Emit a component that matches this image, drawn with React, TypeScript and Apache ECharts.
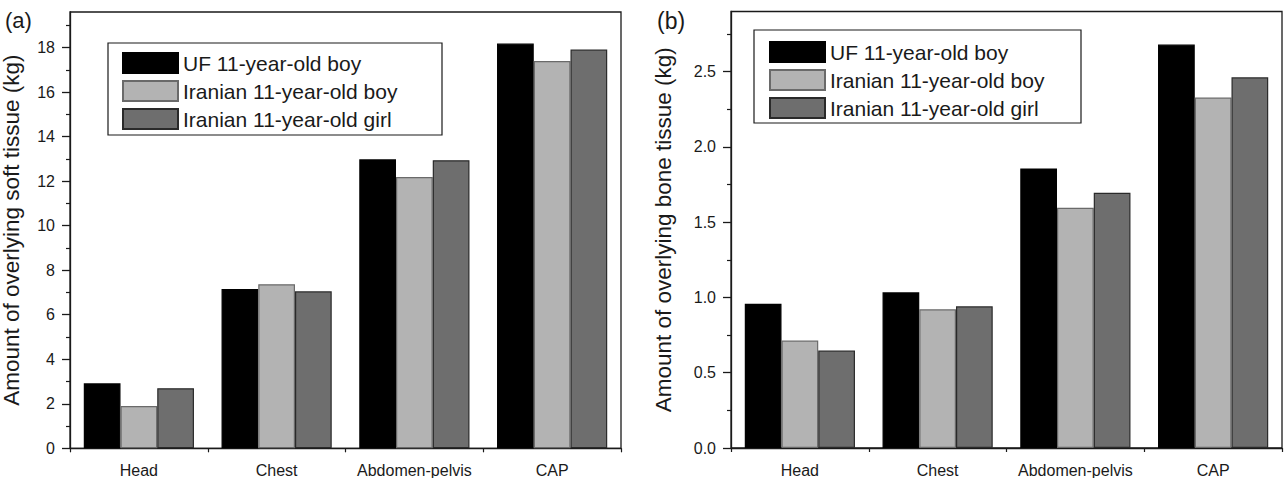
import React, { useEffect, useRef } from "react";
import * as echarts from "echarts";

const categories = ["Head", "Chest", "Abdomen-pelvis", "CAP"];
const seriesNames = ["UF 11-year-old boy", "Iranian 11-year-old boy", "Iranian 11-year-old girl"];

const softUF = [2.92, 7.16, 12.98, 18.18];
const softIranBoy = [1.9, 7.37, 12.19, 17.4];
const softIranGirl = [2.7, 7.05, 12.94, 17.91];

const boneUF = [0.958, 1.034, 1.857, 2.68];
const boneIranBoy = [0.714, 0.921, 1.596, 2.328];
const boneIranGirl = [0.647, 0.941, 1.696, 2.463];

const softTicks = [0, 2, 4, 6, 8, 10, 12, 14, 16, 18];
const softMinorTicks = [1, 3, 5, 7, 9, 11, 13, 15, 17, 19];
const boneTicks = [0, 0.5, 1.0, 1.5, 2.0, 2.5];
const boneMinorTicks = [0.25, 0.75, 1.25, 1.75, 2.25, 2.75];

const softMax = 19.6;
const boneMax = 2.9;

export default function App() {
  const ref = useRef<HTMLDivElement>(null);
  useEffect(() => {
    const chart = echarts.init(ref.current!, null, { renderer: "svg" });
    const font = "'Liberation Sans', Arial, sans-serif";
    const ink = "#1a1a1a";
    const fills = ["#000000", "#b3b3b3", "#6e6e6e"];
    const borders = ["#000000", "#6a6a6a", "#2a2a2a"];

    const bar = (vals: number[], i: number, axis: number) => ({
      type: "bar",
      name: seriesNames[i],
      xAxisIndex: axis,
      yAxisIndex: axis,
      data: vals,
      barGap: "0%",
      barCategoryGap: "20%",
      itemStyle: { color: fills[i], borderColor: borders[i], borderWidth: 1.2 },
      emphasis: { disabled: true },
    });

    const xMain = (grid: number) => ({
      type: "category",
      gridIndex: grid,
      data: categories,
      position: "bottom",
      axisLine: { lineStyle: { color: ink, width: 1.3 } },
      axisTick: { alignWithLabel: true, interval: 0, length: 8, lineStyle: { color: ink, width: 1.3 } },
      axisLabel: { interval: 0, fontSize: 16, margin: 14, color: ink, fontFamily: font },
      splitLine: { show: false },
    });
    const xMinor = (grid: number) => ({
      type: "category",
      gridIndex: grid,
      data: categories,
      position: "bottom",
      axisLine: { show: false },
      axisTick: { show: true, interval: 0, length: 4, lineStyle: { color: ink, width: 1.2 } },
      axisLabel: { show: false, interval: 0 },
      splitLine: { show: false },
    });
    const yMain = (grid: number, max: number, ticks: number[], name: string, gap: number, dec: number) => ({
      type: "value",
      gridIndex: grid,
      position: "left",
      min: 0,
      max,
      name,
      nameLocation: "middle",
      nameGap: gap,
      nameTextStyle: { fontSize: 22.5, color: ink, fontFamily: font },
      axisLine: { show: true, lineStyle: { color: ink, width: 1.3 } },
      axisTick: { show: true, length: 8, customValues: ticks, lineStyle: { color: ink, width: 1.3 } },
      axisLabel: {
        customValues: ticks,
        fontSize: 16,
        margin: 15,
        color: ink,
        fontFamily: font,
        formatter: (v: number) => v.toFixed(dec),
      },
      splitLine: { show: false },
    });
    const yMinor = (grid: number, max: number, ticks: number[]) => ({
      type: "value",
      gridIndex: grid,
      position: "left",
      min: 0,
      max,
      axisLine: { show: false },
      axisTick: { show: true, length: 4, customValues: ticks, lineStyle: { color: ink, width: 1.2 } },
      axisLabel: { show: false },
      splitLine: { show: false },
    });

    const legend = (left: number, top: number) => ({
      left,
      top,
      orient: "vertical",
      data: seriesNames,
      icon: "rect",
      itemWidth: 55,
      itemHeight: 20,
      itemGap: 6,
      padding: 0,
      selectedMode: false,
      textStyle: { fontSize: 21, lineHeight: 20, color: ink, fontFamily: font },
    });

    chart.setOption({
      animation: false,
      backgroundColor: "#ffffff",
      grid: [
        { left: 70, top: 12, width: 551, height: 436.3, show: true, borderColor: ink, borderWidth: 1.3, outerBoundsMode: "none" },
        { left: 731, top: 11.5, width: 551, height: 436.5, show: true, borderColor: ink, borderWidth: 1.3, outerBoundsMode: "none" },
      ],
      xAxis: [xMain(0), xMinor(0), xMain(1), xMinor(1)],
      yAxis: [
        yMain(0, softMax, softTicks, "Amount of overlying soft tissue (kg)", 47, 0),
        yMinor(0, softMax, softMinorTicks),
        yMain(1, boneMax, boneTicks, "Amount of overlying bone tissue (kg)", 56, 1),
        yMinor(1, boneMax, boneMinorTicks),
      ],
      legend: [legend(122, 52), legend(769, 41)],
      graphic: [
        { type: "rect", shape: { x: 108, y: 43, width: 334, height: 92 }, style: { fill: "none", stroke: ink, lineWidth: 1.2 }, z: 5 },
        { type: "rect", shape: { x: 754, y: 30, width: 327, height: 93 }, style: { fill: "none", stroke: ink, lineWidth: 1.2 }, z: 5 },
        { type: "text", left: 5, top: 9, style: { text: "(a)", fontSize: 22, fill: ink, fontFamily: font } },
        { type: "text", left: 657, top: 9, style: { text: "(b)", fontSize: 23, fill: ink, fontFamily: font } },
      ],
      series: [
        bar(softUF, 0, 0),
        bar(softIranBoy, 1, 0),
        bar(softIranGirl, 2, 0),
        bar(boneUF, 0, 2),
        bar(boneIranBoy, 1, 2),
        bar(boneIranGirl, 2, 2),
      ],
    });
    return () => chart.dispose();
  }, []);
  return (
    <div
      ref={ref}
      style={{ position: "fixed", left: 0, top: 0, width: 1284, height: 478, background: "#fff" }}
    />
  );
}
